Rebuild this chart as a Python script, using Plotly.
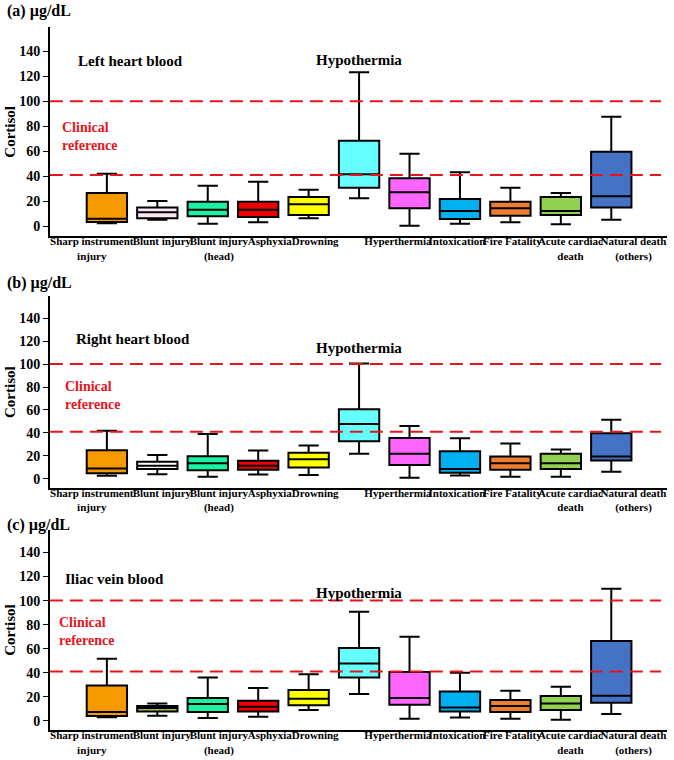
import plotly.graph_objects as go

# categorias de causa de morte
categories = ["Sharp instrument injury", "Blunt injury", "Blunt injury (head)", "Asphyxia",
              "Drowning", "Hypothermia", "Hyperthermia", "Intoxication", "Fire Fatality",
              "Acute cardiac death", "Natural death (others)"]

# rótulos do eixo x (Hypothermia fica sem rótulo, vai como texto acima)
tick_labels = ["Sharp instrument<br>injury", "Blunt injury", "Blunt injury<br>(head)", "Asphyxia",
               "Drowning", "Hyperthermia", "Intoxication", "Fire Fatality",
               "Acute cardiac<br>death", "Natural death<br>(others)"]
tick_pos = [-0.3, 1.09, 2.22, 3.23, 4.13, 5.77, 6.94, 8.04, 9.19, 10.44]

# (a) Left heart blood
a_lo = [2.5, 5.3, 2.1, 3.2, 6.4, 22.4, 0.5, 2.1, 3.2, 1.6, 5.3]
a_q1 = [3.5, 6.4, 8.0, 7.5, 9.0, 30.9, 14.4, 5.9, 8.5, 9.0, 15.0]
a_med = [6.0, 11.2, 13.3, 13.3, 17.6, 41.6, 27.2, 12.3, 14.4, 12.3, 24.0]
a_q3 = [26.7, 15.0, 19.7, 19.7, 23.5, 68.3, 38.4, 21.9, 19.7, 23.5, 59.7]
a_hi = [42.1, 20.3, 32.5, 35.7, 29.3, 123.2, 58.1, 43.2, 30.9, 26.7, 87.5]

# (b) Right heart blood
b_lo = [2.6, 4.0, 1.7, 3.8, 3.2, 21.7, 0.9, 2.9, 1.7, 1.7, 6.1]
b_q1 = [4.9, 8.4, 7.5, 7.8, 9.8, 32.7, 11.9, 5.2, 7.8, 8.4, 15.9]
b_med = [9.0, 11.3, 13.6, 11.3, 17.1, 47.7, 21.7, 8.4, 13.6, 13.6, 19.4]
b_q3 = [24.9, 14.8, 19.7, 15.6, 22.6, 60.5, 35.6, 24.0, 19.4, 21.7, 39.7]
b_hi = [41.9, 20.8, 39.0, 24.6, 28.9, 100.4, 46.0, 35.3, 30.7, 25.5, 51.5]

# (c) Iliac vein blood
c_lo = [3.0, 4.2, 2.2, 3.3, 8.9, 22.2, 1.7, 2.8, 1.7, 0.8, 5.6]
c_q1 = [3.9, 7.8, 7.2, 7.8, 12.8, 36.0, 13.3, 7.8, 7.2, 8.9, 15.0]
c_med = [7.2, 10.6, 13.9, 11.6, 18.3, 47.7, 18.9, 11.1, 12.2, 14.4, 20.8]
c_q3 = [29.4, 12.2, 18.9, 16.6, 25.5, 60.5, 40.5, 24.4, 17.2, 20.5, 66.3]
c_hi = [51.6, 14.4, 36.0, 27.2, 38.8, 90.7, 69.9, 39.9, 25.0, 28.3, 109.8]

ref_lines = [100, 41]

base_colors = ["#f79a00", "#f8e8f6", "#1af2a2", "#ee0000", "#ffff00", "#66ffff",
               "#ff66ff", "#00b0f0", "#ed7d31", "#92d050", "#4472c4"]
blunt_colors = ["#f8e8f6", "#ffffff", "#9bbb59"]

panels = [
    dict(lo=a_lo, q1=a_q1, med=a_med, q3=a_q3, hi=a_hi, tag="(a)", name="Left heart blood",
         dom=[0.689, 0.964], lab_y=0.9855, name_xy=(-0.62, 132), hypo_y=132.8, clin_x=-0.93, clin_y=71.6),
    dict(lo=b_lo, q1=b_q1, med=b_med, q3=b_q3, hi=b_hi, tag="(b)", name="Right heart blood",
         dom=[0.358, 0.610], lab_y=0.628, name_xy=(-0.65, 122), hypo_y=113.7, clin_x=-0.87, clin_y=72.9),
    dict(lo=c_lo, q1=c_q1, med=c_med, q3=c_q3, hi=c_hi, tag="(c)", name="Iliac vein blood",
         dom=[0.039, 0.303], lab_y=0.309, name_xy=(-0.87, 118), hypo_y=106.5, clin_x=-0.98, clin_y=74),
]

serif = "Times New Roman, Liberation Serif, serif"
fig = go.Figure()
annotations = []
shapes = []

for p_i, p in enumerate(panels):
    n = "" if p_i == 0 else str(p_i + 1)
    colors = list(base_colors)
    colors[1] = blunt_colors[p_i]
    for i, cat in enumerate(categories):
        fig.add_trace(go.Box(
            x=[i], q1=[p["q1"][i]], median=[p["med"][i]], q3=[p["q3"][i]],
            lowerfence=[p["lo"][i]], upperfence=[p["hi"][i]],
            name=cat, fillcolor=colors[i], line=dict(color="black", width=2),
            width=0.8, whiskerwidth=0.5, boxpoints=False, showlegend=False,
            xaxis="x" + n, yaxis="y" + n))

    fig.update_layout(**{
        "xaxis" + n: dict(domain=[0.074, 0.99], range=[-1.13, 11.11], anchor="y" + n,
                          showline=True, linecolor="black", linewidth=1.5, showgrid=False,
                          zeroline=False, ticks="", tickvals=tick_pos, ticktext=tick_labels,
                          tickangle=0, ticklabelstandoff=-6,
                          tickfont=dict(family=serif, size=11, color="black", weight="bold")),
        "yaxis" + n: dict(domain=p["dom"], range=[-8, 159], anchor="x" + n,
                          showline=True, linecolor="black", linewidth=1.5, showgrid=False,
                          zeroline=False, ticks="outside", ticklen=5, tickcolor="black",
                          tickvals=[0, 20, 40, 60, 80, 100, 120, 140],
                          tickfont=dict(family=serif, size=14, color="black", weight="bold"),
                          title=dict(text="Cortisol", standoff=0,
                                     font=dict(family=serif, size=15, color="black", weight="bold"))),
    })

    # linhas de referência clínica
    for v in ref_lines:
        shapes.append(dict(type="line", xref="x" + n + " domain", x0=0, x1=0.99,
                           yref="y" + n, y0=v, y1=v, layer="above",
                           line=dict(color="#e8141c", width=2, dash="13px,7px")))

    annotations += [
        dict(text=p["tag"] + " µg/dL", xref="paper", yref="paper", x=0.007, y=p["lab_y"],
             xanchor="left", yanchor="middle", showarrow=False,
             font=dict(family=serif, size=16, color="black", weight="bold")),
        dict(text=p["name"], xref="x" + n, yref="y" + n, x=p["name_xy"][0], y=p["name_xy"][1],
             xanchor="left", yanchor="middle", showarrow=False,
             font=dict(family=serif, size=15, color="black", weight="bold")),
        dict(text="Hypothermia", xref="x" + n, yref="y" + n, x=5, y=p["hypo_y"],
             xanchor="center", yanchor="middle", showarrow=False,
             font=dict(family=serif, size=15, color="black", weight="bold")),
        dict(text="Clinical<br>reference", xref="x" + n, yref="y" + n, x=p["clin_x"], y=p["clin_y"],
             xanchor="left", yanchor="middle", align="left", showarrow=False,
             font=dict(family=serif, size=14, color="#e8141c", weight="bold")),
    ]

fig.update_layout(width=674, height=760, margin=dict(l=0, r=0, t=0, b=0),
                  plot_bgcolor="white", paper_bgcolor="white",
                  annotations=annotations, shapes=shapes)

# tira a margem padrão do body para o gráfico ocupar a janela toda
fig.write_html("out.html", config={"displayModeBar": False},
               post_script="document.body.style.margin='0';")
